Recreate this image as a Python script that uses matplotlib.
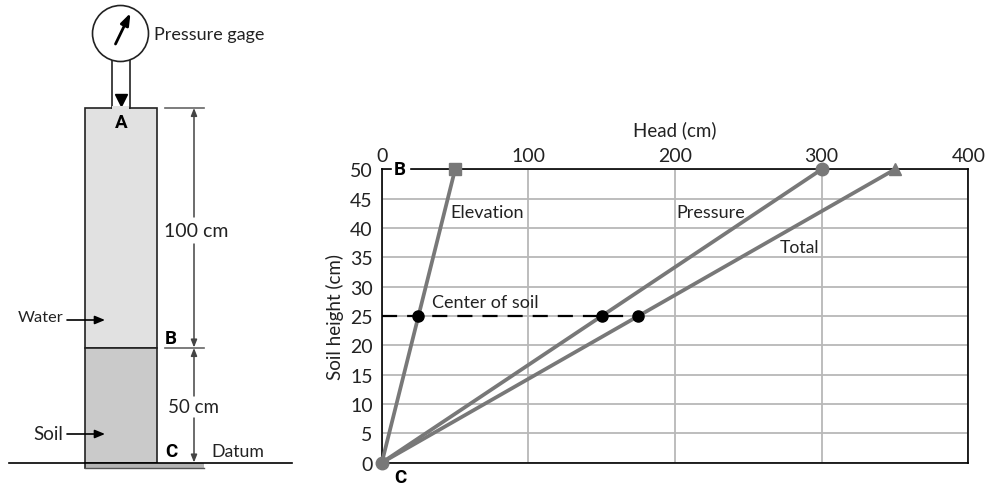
import matplotlib
matplotlib.use("Agg")
import matplotlib.pyplot as plt
from matplotlib.patches import Circle, Rectangle

plt.rcParams['font.family'] = ['Lato', 'DejaVu Sans']

head_ticks = [0, 100, 200, 300, 400]
height_ticks = [0, 5, 10, 15, 20, 25, 30, 35, 40, 45, 50]

soil_height = [0, 50]
elevation_head = [0, 50]
pressure_head = [0, 300]
total_head = [0, 350]

center_height = 25
center_heads = [25, 150, 175]

W, H = 985, 485
fig = plt.figure(figsize=(W / 100, H / 100), dpi=100)
txt = '#222222'

# chart on the right
ax = fig.add_axes([381.8 / W, 1 - 463.7 / H, (968.3 - 381.8) / W, (463.7 - 170.3) / H])
ax.set_xlim(0, 400)
ax.set_ylim(0, 50)
ax.set_xticks(head_ticks)
ax.set_yticks(height_ticks)
ax.xaxis.tick_top()
ax.xaxis.set_label_position('top')
ax.tick_params(length=0, labelsize=14, colors=txt)
ax.tick_params(axis='x', pad=4)
ax.tick_params(axis='y', pad=6.5)
ax.grid(color='#b8b8b8', lw=1.3)
ax.set_axisbelow(True)
for s in ax.spines.values():
    s.set_linewidth(1.2)
    s.set_color('black')
ax.set_xlabel('Head (cm)', fontsize=13.5, labelpad=8.5, color=txt)
ax.set_ylabel('Soil height (cm)', fontsize=13.5, labelpad=4.5, color=txt)

gray = '#787878'
ax.plot(elevation_head, soil_height, color=gray, lw=2.7, clip_on=False, zorder=4)
ax.plot(pressure_head, soil_height, color=gray, lw=2.7, clip_on=False, zorder=4)
ax.plot(total_head, soil_height, color=gray, lw=2.7, clip_on=False, zorder=4)
ax.plot(elevation_head[1], soil_height[1], 's', color=gray, ms=8.5, clip_on=False, zorder=5)
ax.plot(pressure_head[1], soil_height[1], 'o', color=gray, ms=9, clip_on=False, zorder=5)
ax.plot(total_head[1], soil_height[1], '^', color=gray, ms=9, clip_on=False, zorder=5)
ax.plot(0, 0, 'o', color=gray, ms=9, clip_on=False, zorder=5)

ax.plot([0, center_heads[-1]], [center_height, center_height], color='black', lw=1.6,
        dashes=(6.8, 4.5), zorder=5)
ax.plot(center_heads, [center_height] * 3, 'o', color='black', ms=8, zorder=6)

# white gap behind the B so the top line breaks there
ax.add_patch(Rectangle((7, 49), 11.5, 2, color='white', clip_on=False, zorder=3))

ax.text(46.5, 42.8, 'Elevation', fontsize=13, va='center', color=txt)
ax.text(34, 27.4, 'Center of soil', fontsize=13, va='center', color=txt)
ax.text(201, 42.8, 'Pressure', fontsize=13, va='center', color=txt)
ax.text(271.5, 36.7, 'Total', fontsize=12.7, va='center', color=txt)

cond = ['Roboto', 'DejaVu Sans']
ax.text(12.5, 50, 'B', fontsize=13.5, fontweight='bold', family=cond, ha='center', va='center', zorder=6)
ax.text(12.5, -2.4, 'C', fontsize=13.5, fontweight='bold', family=cond, ha='center', va='center')

# column diagram on the left, drawn in pixels of the picture
d = fig.add_axes([0, 0, 1, 1], facecolor='none')
d.set_xlim(0, W)
d.set_ylim(H, 0)
d.axis('off')

d.add_patch(Rectangle((85, 108.5), 72, 240.3, fc='#e1e1e1', ec='#222222', lw=1.2))
d.add_patch(Rectangle((85, 348.8), 72, 114.8, fc='#cacaca', ec='#222222', lw=1.2))
d.add_patch(Rectangle((85, 463.6), 119, 5, fc='#b4b4b4', ec='none'))
d.plot([85, 85], [463.6, 468.6], color='#222222', lw=1.2)
d.plot([85, 204], [468.6, 468.6], color='#555555', lw=1)
d.plot([9, 292], [463.6, 463.6], color='black', lw=1.2)

d.add_patch(Rectangle((111.5, 60), 18.5, 48.5, fc='white', ec='#222222', lw=1.2))
d.add_patch(Rectangle((112.3, 107), 17, 3, fc='#e1e1e1', ec='none', zorder=3))
d.add_patch(Circle((120.5, 34.5), 28, fc='white', ec='#222222', lw=1.2, zorder=3))
d.annotate('', xy=(130.5, 14), xytext=(115.5, 45), zorder=4,
           arrowprops=dict(arrowstyle='-|>,head_length=0.7,head_width=0.25', color='black', lw=2,
                           shrinkA=0, shrinkB=0))
d.plot(120.8, 100.5, 'v', color='black', ms=9)

d.plot([165, 204], [108.5, 108.5], color='#666666', lw=1.2)
d.plot([165, 204], [348.8, 348.8], color='#666666', lw=1.2)

dim = dict(arrowstyle='-|>,head_length=0.45,head_width=0.18', color='#444444', lw=1.1,
           shrinkA=0, shrinkB=0)
d.annotate('', xy=(194, 109), xytext=(194, 218), arrowprops=dim)
d.annotate('', xy=(194, 348.5), xytext=(194, 245), arrowprops=dim)
d.annotate('', xy=(194, 349), xytext=(194, 397), arrowprops=dim)
d.annotate('', xy=(194, 463.5), xytext=(194, 419), arrowprops=dim)

lead = dict(arrowstyle='-|>,head_length=0.6,head_width=0.25', color='black', lw=1.2,
            shrinkA=0, shrinkB=0)
d.annotate('', xy=(105, 321), xytext=(67, 321), arrowprops=lead)
d.annotate('', xy=(105, 435), xytext=(67, 435), arrowprops=lead)

d.text(154.5, 35, 'Pressure gage', fontsize=13, va='center', color=txt)
d.text(163.5, 232, '100 cm', fontsize=14, va='center', color=txt)
d.text(168, 408, '50 cm', fontsize=13.5, va='center', color=txt)
d.text(63.5, 318, 'Water', fontsize=11.8, va='center', ha='right', color=txt)
d.text(63, 435, 'Soil', fontsize=13.5, va='center', ha='right', color=txt)
d.text(211, 452, 'Datum', fontsize=12.7, va='center', color=txt)
d.text(121, 123, 'A', fontsize=13.5, fontweight='bold', family=cond, ha='center', va='center')
d.text(171, 339, 'B', fontsize=13.5, fontweight='bold', family=cond, ha='center', va='center')
d.text(171, 452, 'C', fontsize=13.5, fontweight='bold', family=cond, ha='center', va='center')

fig.savefig('out.png', dpi=100)
